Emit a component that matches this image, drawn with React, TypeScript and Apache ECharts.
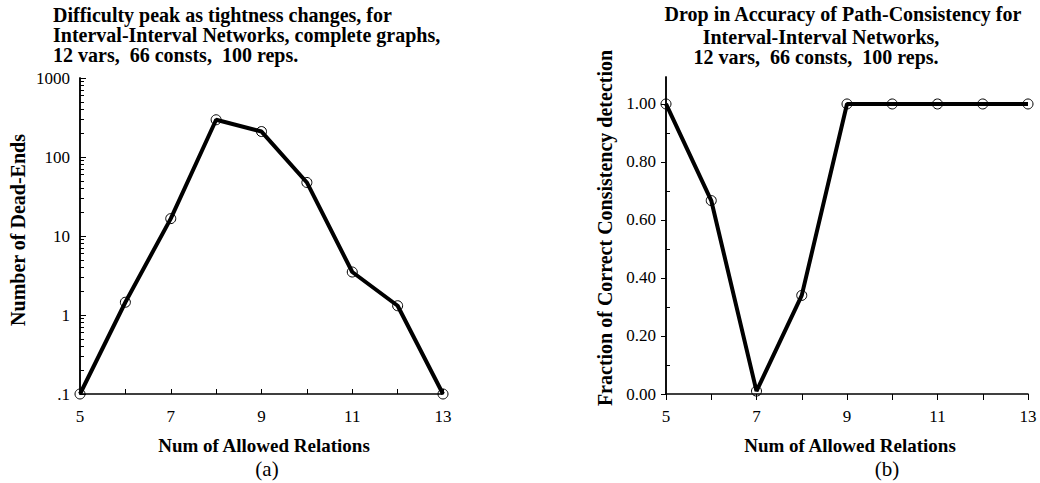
import React, { useEffect, useRef } from "react";
import * as echarts from "echarts";

// ---- data ----
const relations = [5, 6, 7, 8, 9, 10, 11, 12, 13];
const deadEnds = [0.1, 1.45, 16.6, 296, 210, 47.6, 3.5, 1.31, 0.1];
const accuracy = [1.0, 0.667, 0.01, 0.34, 1.0, 1.0, 1.0, 1.0, 1.0];

// ---- tick labels / tick positions ----
const xMin = 5;
const xMax = 13;
const xLabelValues = [5, 7, 9, 11, 13];
const logMinorTicks = [
  0.2, 0.3, 0.4, 0.5, 0.6, 0.7, 0.8, 0.9,
  2, 3, 4, 5, 6, 7, 8, 9,
  20, 30, 40, 50, 60, 70, 80, 90,
  200, 300, 400, 500, 600, 700, 800, 900,
];
const fracMajorTicks = [0, 0.2, 0.4, 0.6, 0.8, 1.0];
const fracMinorTicks = [0.1, 0.3, 0.5, 0.7, 0.9];

const titleA = [
  "Difficulty peak as tightness changes, for",
  "Interval-Interval Networks, complete graphs,",
  "12 vars,  66 consts,  100 reps.",
];
const titleB = [
  "Drop in Accuracy of Path-Consistency for",
  "Interval-Interval Networks,",
  "12 vars,  66 consts,  100 reps.",
];

const SERIF = "'Liberation Serif', 'Times New Roman', serif";

export default function App() {
  const ref = useRef<HTMLDivElement>(null);

  useEffect(() => {
    document.body.style.margin = "0";
    if (!ref.current) return;
    const chart = echarts.init(ref.current, undefined, { renderer: "svg" });

    const axisLabelStyle = {
      fontFamily: SERIF,
      fontSize: 17,
      color: "#000",
    };

    const lineSeriesStyle = {
      type: "line",
      symbol: "circle",
      symbolSize: 10,
      lineStyle: { color: "#000", width: 4 },
      itemStyle: { color: "rgba(0,0,0,0)", borderColor: "#000", borderWidth: 1 },
      z: 3,
    };

    const textEl = (
      text: string,
      x: number,
      y: number,
      opts: { size?: number; bold?: boolean; align?: string; rotate?: number } = {}
    ) => ({
      type: "text",
      x,
      y,
      rotation: opts.rotate || 0,
      style: {
        text,
        fontFamily: SERIF,
        fontSize: opts.size || 20,
        fontWeight: opts.bold === false ? "normal" : "bold",
        fill: "#000",
        textAlign: opts.align || "left",
        textVerticalAlign: "middle",
      },
    });

    // overlay axis used only for its minor tick marks (line coincides with main axis)
    const minorAxis = (gridIndex: number, min: number, max: number, ticks: number[]) => ({
      gridIndex,
      type: "value",
      position: "left",
      offset: 0,
      min,
      max,
      axisLine: { show: true, onZero: false, lineStyle: { color: "#000", width: 1.5 } },
      axisLabel: { show: false },
      splitLine: { show: false },
      axisTick: {
        show: true,
        inside: true,
        length: 4,
        customValues: ticks,
        lineStyle: { color: "#000", width: 1 },
      },
    });

    const option: any = {
      animation: false,
      backgroundColor: "#fff",
      grid: [
        { left: 80, top: 78, width: 363, height: 316 },
        { left: 666, top: 77, width: 362, height: 317 },
      ],
      xAxis: [
        {
          gridIndex: 0,
          type: "value",
          position: "bottom",
          min: xMin,
          max: xMax,
          interval: 1,
          axisLine: { onZero: false, lineStyle: { color: "#000", width: 1.5 } },
          axisTick: { inside: true, length: 5, lineStyle: { color: "#000" } },
          splitLine: { show: false },
          axisLabel: {
            ...axisLabelStyle,
            margin: 14,
            formatter: (v: number) => (xLabelValues.includes(v) ? String(v) : ""),
          },
        },
        {
          gridIndex: 1,
          type: "value",
          position: "bottom",
          min: xMin,
          max: xMax,
          interval: 1,
          axisLine: { onZero: false, lineStyle: { color: "#000", width: 1.5 } },
          axisTick: { inside: false, length: 6, lineStyle: { color: "#000" } },
          splitLine: { show: false },
          axisLabel: {
            ...axisLabelStyle,
            margin: 14,
            formatter: (v: number) => (xLabelValues.includes(v) ? String(v) : ""),
          },
        },
      ],
      yAxis: [
        {
          gridIndex: 0,
          type: "log",
          logBase: 10,
          position: "left",
          min: 0.1,
          max: 1000,
          axisLine: { show: true, onZero: false, lineStyle: { color: "#000", width: 1.5 } },
          axisTick: { show: true, inside: true, length: 6, lineStyle: { color: "#000" } },
          splitLine: { show: false },
          axisLabel: {
            ...axisLabelStyle,
            margin: 10,
            formatter: (v: number) => (v < 0.5 ? ".1" : String(Math.round(v))),
          },
        },
        {
          gridIndex: 1,
          type: "value",
          position: "left",
          min: 0,
          max: 1.093,
          axisLine: { show: true, onZero: false, lineStyle: { color: "#000", width: 1.5 } },
          axisTick: {
            show: true,
            inside: false,
            length: 5,
            customValues: fracMajorTicks,
            lineStyle: { color: "#000" },
          },
          splitLine: { show: false },
          axisLabel: {
            ...axisLabelStyle,
            margin: 10,
            customValues: fracMajorTicks,
            formatter: (v: number) => v.toFixed(2),
          },
        },
        minorAxis(0, -1, 3, logMinorTicks.map((v) => Math.log10(v))),
        minorAxis(1, 0, 1.093, fracMinorTicks),
      ],
      series: [
        {
          ...lineSeriesStyle,
          xAxisIndex: 0,
          yAxisIndex: 0,
          data: relations.map((r, i) => [r, deadEnds[i]]),
        },
        {
          ...lineSeriesStyle,
          xAxisIndex: 1,
          yAxisIndex: 1,
          data: relations.map((r, i) => [r, accuracy[i]]),
        },
      ],
      graphic: [
        textEl(titleA[0], 53, 15),
        textEl(titleA[1], 53, 35),
        textEl(titleA[2], 53, 55),
        textEl(titleB[0], 843, 14, { align: "center" }),
        textEl(titleB[1], 821, 37, { align: "center" }),
        textEl(titleB[2], 816, 57, { align: "center" }),
        textEl("Number of Dead-Ends", 18, 230, { align: "center", rotate: Math.PI / 2 }),
        textEl("Fraction of Correct Consistency detection", 605, 228, {
          align: "center",
          rotate: Math.PI / 2,
        }),
        textEl("Num of Allowed Relations", 264, 445, { align: "center", size: 19 }),
        textEl("Num of Allowed Relations", 850, 445, { align: "center", size: 19 }),
        textEl("(a)", 267, 469, { align: "center", bold: false, size: 21 }),
        textEl("(b)", 887, 469, { align: "center", bold: false, size: 21 }),
      ],
    };

    chart.setOption(option);
    return () => chart.dispose();
  }, []);

  return <div ref={ref} style={{ width: 1040, height: 483 }} />;
}
